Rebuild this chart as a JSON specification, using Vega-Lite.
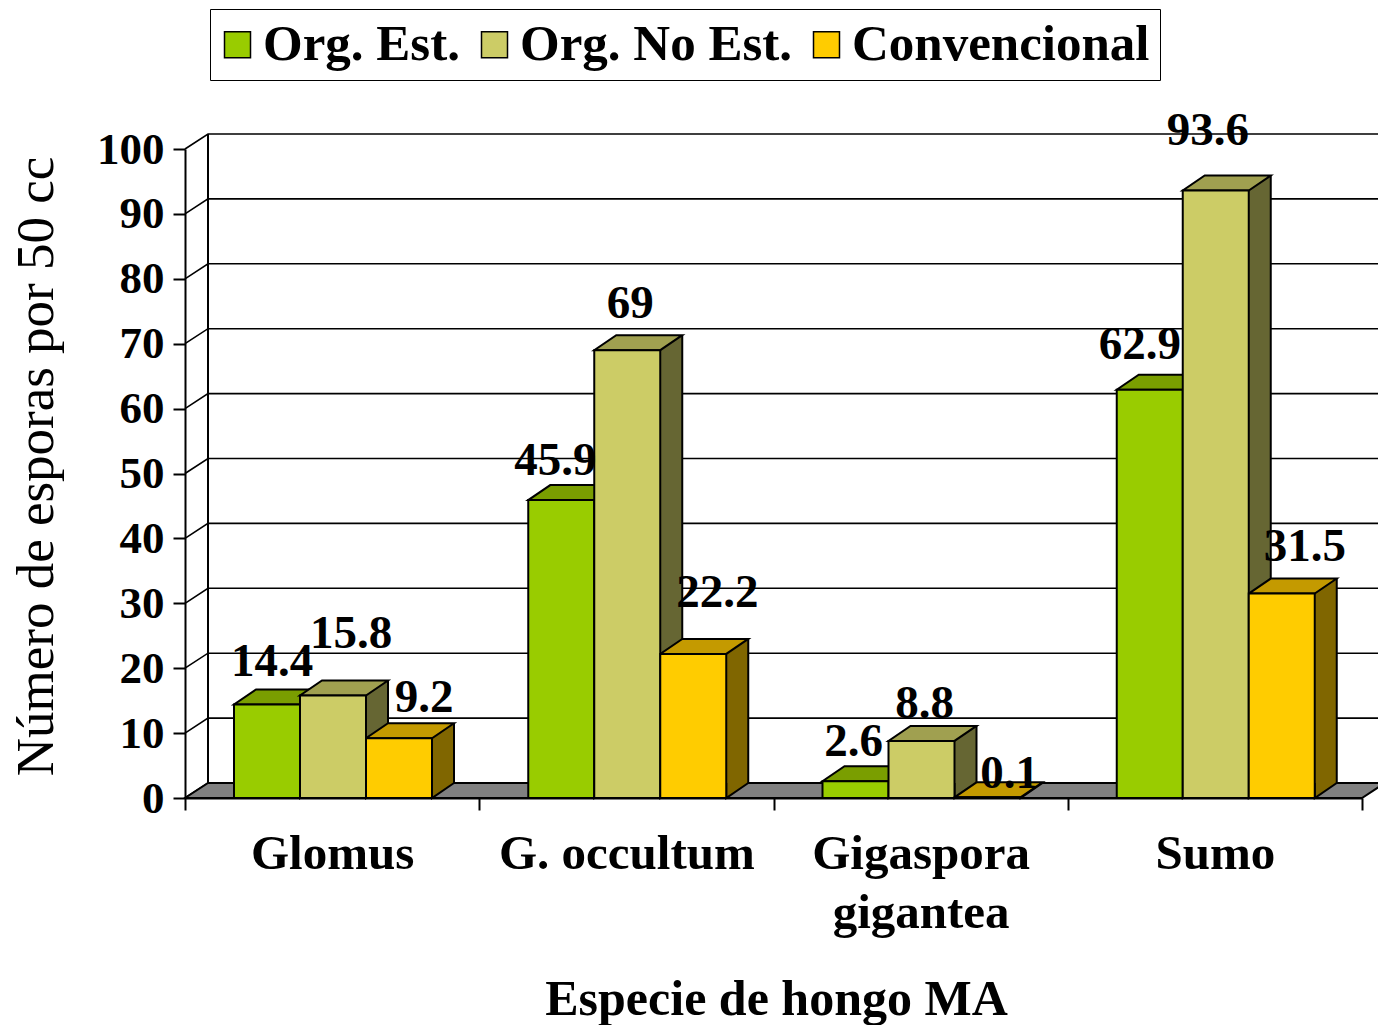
{"$schema":"https://vega.github.io/schema/vega-lite/v6.json","width":1177,"height":649,"autosize":{"type":"none"},"padding":{"left":185,"top":149,"right":16,"bottom":227},"background":"white","config":{"font":"Liberation Serif","view":{"stroke":null},"text":{"fontSize":47,"fontWeight":"bold","color":"black"}},"datasets":{"bars":[{"species":"Glomus","series":"Org. Est.","value":14.4},{"species":"Glomus","series":"Org. No Est.","value":15.8},{"species":"Glomus","series":"Convencional","value":9.2},{"species":"G. occultum","series":"Org. Est.","value":45.9},{"species":"G. occultum","series":"Org. No Est.","value":69},{"species":"G. occultum","series":"Convencional","value":22.2},{"species":"Gigaspora gigantea","series":"Org. Est.","value":2.6},{"species":"Gigaspora gigantea","series":"Org. No Est.","value":8.8},{"species":"Gigaspora gigantea","series":"Convencional","value":0.1},{"species":"Sumo","series":"Org. Est.","value":62.9},{"species":"Sumo","series":"Org. No Est.","value":93.6},{"species":"Sumo","series":"Convencional","value":31.5}],"ticks":[{"value":0,"species":"Glomus","series":"Org. Est."},{"value":10,"species":"Glomus","series":"Org. Est."},{"value":20,"species":"Glomus","series":"Org. Est."},{"value":30,"species":"Glomus","series":"Org. Est."},{"value":40,"species":"Glomus","series":"Org. Est."},{"value":50,"species":"Glomus","series":"Org. Est."},{"value":60,"species":"Glomus","series":"Org. Est."},{"value":70,"species":"Glomus","series":"Org. Est."},{"value":80,"species":"Glomus","series":"Org. Est."},{"value":90,"species":"Glomus","series":"Org. Est."},{"value":100,"species":"Glomus","series":"Org. Est."}]},"data":{"name":"bars"},"encoding":{"x":{"field":"species","type":"nominal","sort":null,"scale":{"domain":["Glomus","G. occultum","Gigaspora gigantea","Sumo"],"paddingInner":0,"paddingOuter":0},"axis":{"title":"Especie de hongo MA","titleFontSize":50,"titleFontWeight":"bold","titleColor":"black","titleX":591,"titleY":176,"labelAngle":0,"labelFontSize":49,"labelFontWeight":"bold","labelColor":"black","labelPadding":19,"labelLineHeight":59,"labelLimit":400,"labelExpr":"datum.label=='Gigaspora gigantea'?['Gigaspora','gigantea']:datum.label","tickBand":"extent","tickSize":12,"tickWidth":2,"tickColor":"black","domainColor":"black","domainWidth":2,"grid":false}},"xOffset":{"field":"series","type":"nominal","scale":{"type":"band","domain":["Org. Est.","Org. No Est.","Convencional"],"range":[49,247],"paddingInner":0,"paddingOuter":0}},"y":{"field":"value","type":"quantitative","scale":{"domain":[0,100],"nice":false},"stack":null,"axis":{"title":"Número de esporas por 50 cc","titleFontSize":53,"titleFontWeight":"normal","titleColor":"black","titleX":-122,"titleY":317,"values":[0,10,20,30,40,50,60,70,80,90,100],"labelFontSize":45,"labelFontWeight":"bold","labelColor":"black","labelPadding":9,"tickSize":12,"tickWidth":2,"tickColor":"black","domainColor":"black","domainWidth":2,"grid":false}}},"layer":[{"data":{"name":"ticks"},"transform":[{"filter":"datum.value==0"}],"mark":{"type":"point","shape":"M-59,-15 L-59,-664","size":4,"stroke":"black","strokeWidth":2,"opacity":1}},{"data":{"name":"ticks"},"mark":{"type":"point","shape":"M-82,0 L-59,-15 L1118,-15","size":4,"stroke":"black","strokeWidth":1.6,"opacity":1}},{"data":{"name":"ticks"},"transform":[{"filter":"datum.value==0"}],"mark":{"type":"point","filled":true,"shape":"M-82,0 L1095,0 L1118,-15 L-59,-15 Z","size":4,"fill":"#808080","stroke":"black","strokeWidth":2,"opacity":1}},{"mark":{"type":"rule","strokeWidth":22,"yOffset":-15,"y2Offset":-15},"encoding":{"xOffset":{"field":"series","type":"nominal","scale":{"type":"band","domain":["Org. Est.","Org. No Est.","Convencional"],"range":[93,291],"paddingInner":0,"paddingOuter":0}},"y2":{"datum":0},"color":{"field":"series","type":"nominal","legend":null,"scale":{"domain":["Org. Est.","Org. No Est.","Convencional"],"range":["#668800","#666633","#806600"]}}}},{"mark":{"type":"rule","strokeWidth":2,"color":"black","yOffset":-15,"y2Offset":-15},"encoding":{"xOffset":{"field":"series","type":"nominal","scale":{"type":"band","domain":["Org. Est.","Org. No Est.","Convencional"],"range":[104,302],"paddingInner":0,"paddingOuter":0}},"y2":{"datum":0}}},{"mark":{"type":"point","filled":true,"shape":"M33,-15 L33,0 L55,-15","size":4,"stroke":"black","strokeWidth":2,"opacity":1},"encoding":{"y":{"datum":0},"color":{"field":"series","type":"nominal","legend":null,"scale":{"domain":["Org. Est.","Org. No Est.","Convencional"],"range":["#668800","#666633","#806600"]}}}},{"mark":{"type":"point","filled":true,"shape":"M-33,0 L33,0 L55,-15 L-11,-15 Z","size":4,"stroke":"black","strokeWidth":2,"opacity":1},"encoding":{"color":{"field":"series","type":"nominal","legend":null,"scale":{"domain":["Org. Est.","Org. No Est.","Convencional"],"range":["#7A9E00","#A0A050","#C49A00"]}}}},{"mark":{"type":"bar","stroke":"black","strokeWidth":2,"opacity":1},"encoding":{"color":{"field":"series","type":"nominal","scale":{"domain":["Org. Est.","Org. No Est.","Convencional"],"range":["#99CC00","#CCCC66","#FFCC00"]},"legend":{"title":null,"orient":"none","legendX":25,"legendY":-140,"direction":"horizontal","columns":3,"symbolType":"square","symbolSize":676,"symbolStrokeColor":"black","symbolStrokeWidth":1.5,"symbolOpacity":1,"symbolOffset":-8,"labelFont":"Liberation Serif","labelFontWeight":"bold","labelFontSize":51,"labelColor":"black","labelLimit":500,"labelOffset":0,"columnPadding":17,"strokeColor":"black","fillColor":"white","padding":10}}}},{"transform":[{"filter":{"field":"value","equal":14.4}}],"mark":{"type":"text","dx":5,"dy":-43},"encoding":{"text":{"field":"value"}}},{"transform":[{"filter":{"field":"value","equal":15.8}}],"mark":{"type":"text","dx":18,"dy":-61},"encoding":{"text":{"field":"value"}}},{"transform":[{"filter":{"field":"value","equal":9.2}}],"mark":{"type":"text","dx":25,"dy":-40},"encoding":{"text":{"field":"value"}}},{"transform":[{"filter":{"field":"value","equal":45.9}}],"mark":{"type":"text","dx":-6,"dy":-39},"encoding":{"text":{"field":"value"}}},{"transform":[{"filter":{"field":"value","equal":69}}],"mark":{"type":"text","dx":3,"dy":-46},"encoding":{"text":{"field":"value"}}},{"transform":[{"filter":{"field":"value","equal":22.2}}],"mark":{"type":"text","dx":24,"dy":-61},"encoding":{"text":{"field":"value"}}},{"transform":[{"filter":{"field":"value","equal":2.6}}],"mark":{"type":"text","dx":-2,"dy":-39},"encoding":{"text":{"field":"value"}}},{"transform":[{"filter":{"field":"value","equal":8.8}}],"mark":{"type":"text","dx":3,"dy":-37},"encoding":{"text":{"field":"value"}}},{"transform":[{"filter":{"field":"value","equal":0.1}}],"mark":{"type":"text","dx":22,"dy":-23},"encoding":{"text":{"field":"value"}}},{"transform":[{"filter":{"field":"value","equal":62.9}}],"mark":{"type":"text","dx":-10,"dy":-45},"encoding":{"text":{"field":"value"}}},{"transform":[{"filter":{"field":"value","equal":93.6}}],"mark":{"type":"text","dx":-8,"dy":-60},"encoding":{"text":{"field":"value"}}},{"transform":[{"filter":{"field":"value","equal":31.5}}],"mark":{"type":"text","dx":23,"dy":-47},"encoding":{"text":{"field":"value"}}}],"resolve":{"scale":{"color":"independent","xOffset":"independent"}}}
